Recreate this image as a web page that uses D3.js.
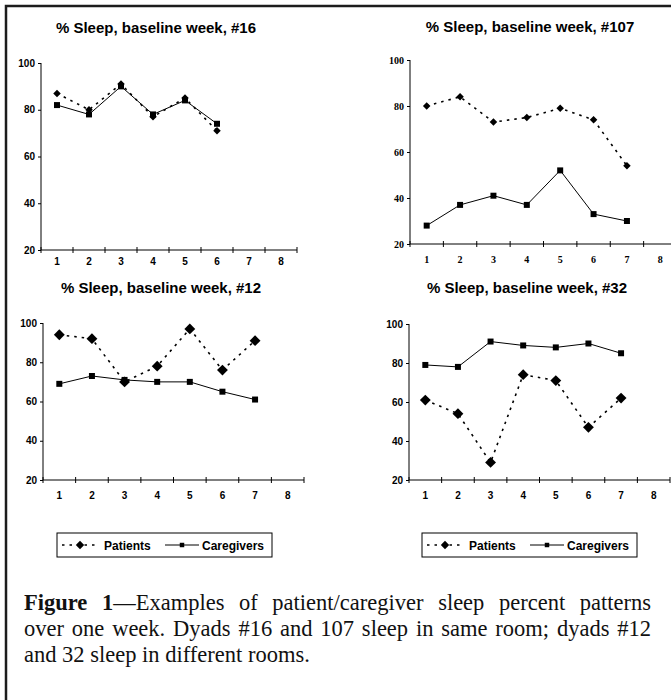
<!DOCTYPE html>
<html>
<head>
<meta charset="utf-8">
<script src="https://cdn.jsdelivr.net/npm/d3@7"></script>
<style>
  body { margin: 0; background: #fff; }
  svg { display: block; }
</style>
</head>
<body>
<script>
var width = 671,
  height = 700;

// data
var days = [1, 2, 3, 4, 5, 6, 7, 8],
  yTicks = [20, 40, 60, 80, 100],
  titles = ["% Sleep, baseline week, #16", "% Sleep, baseline week, #107",
    "% Sleep, baseline week, #12", "% Sleep, baseline week, #32"],
  patients16 = [87, 80, 91, 77, 85, 71],
  caregivers16 = [82, 78, 90, 78, 84, 74],
  patients107 = [80, 84, 73, 75, 79, 74, 54],
  caregivers107 = [28, 37, 41, 37, 52, 33, 30],
  patients12 = [94, 92, 70, 78, 97, 76, 91],
  caregivers12 = [69, 73, 71, 70, 70, 65, 61],
  patients32 = [61, 54, 29, 74, 71, 47, 62],
  caregivers32 = [79, 78, 91, 89, 88, 90, 85],
  seriesNames = ["Patients", "Caregivers"];

var svg = d3.select("body")
  .append("svg")
  .attr("width", width)
  .attr("height", height);

// frame (only left and top show)
svg.append("path")
  .attr("d", "M6,700V6H671")
  .attr("fill", "none")
  .attr("stroke", "#1c1c1c")
  .attr("stroke-width", 2.5);

var sans = "'Liberation Sans', Arial, sans-serif",
  serif = "'Liberation Serif', 'Times New Roman', serif";

var panels = [
  { title: titles[0], p: patients16, c: caregivers16, x0: 41, x1: 297, yTop: 63, yBot: 250, lab: 265, tx: 156, ty: 33, font: sans, big: false },
  { title: titles[1], p: patients107, c: caregivers107, x0: 410, x1: 677, yTop: 60, yBot: 244, lab: 263, tx: 530, ty: 32, font: serif, big: false },
  { title: titles[2], p: patients12, c: caregivers12, x0: 43, x1: 304, yTop: 323, yBot: 480, lab: 499, tx: 161, ty: 293, font: sans, big: true },
  { title: titles[3], p: patients32, c: caregivers32, x0: 409, x1: 670, yTop: 324, yBot: 480, lab: 499, tx: 527, ty: 293, font: sans, big: true }
];

var diamond = d3.symbol().type(d3.symbolDiamond2),
  square = d3.symbol().type(d3.symbolSquare);

panels.forEach(function (pn) {
  var g = svg.append("g");

  var xScale = d3.scaleBand()
    .domain(days)
    .range([pn.x0, pn.x1]);

  var yScale = d3.scaleLinear()
    .domain([20, 100])
    .range([pn.yBot, pn.yTop]);

  // title
  g.append("text")
    .attr("x", pn.tx)
    .attr("y", pn.ty)
    .attr("text-anchor", "middle")
    .style("font-family", sans)
    .style("font-weight", "bold")
    .style("font-size", "15px")
    .text(pn.title);

  //----------Y axis----------
  var yAxis = d3.axisLeft(yScale)
    .tickValues(yTicks)
    .tickSize(3)
    .tickPadding(3);

  var ya = g.append("g")
    .attr("transform", "translate(" + pn.x0 + ",0)")
    .call(yAxis);
  ya.select(".domain").attr("d", "M0," + pn.yTop + "V" + pn.yBot);
  ya.selectAll("text")
    .style("font-family", pn.font)
    .style("font-weight", "bold")
    .style("font-size", "10px");

  //----------X axis----------
  var xa = g.append("g")
    .attr("transform", "translate(0," + pn.yBot + ")");
  xa.append("line")
    .attr("x1", pn.x0)
    .attr("x2", pn.x1)
    .attr("stroke", "#000");
  xa.selectAll(".tk")
    .data(days.concat([9]))
    .enter()
    .append("line")
    .attr("x1", function (d) { return d < 9 ? xScale(d) : pn.x1; })
    .attr("x2", function (d) { return d < 9 ? xScale(d) : pn.x1; })
    .attr("y1", -3)
    .attr("y2", 3)
    .attr("stroke", "#000");
  g.selectAll(".xl")
    .data(days)
    .enter()
    .append("text")
    .attr("x", function (d) { return xScale(d) + xScale.bandwidth() / 2; })
    .attr("y", pn.lab)
    .attr("text-anchor", "middle")
    .style("font-family", pn.font)
    .style("font-weight", "bold")
    .style("font-size", "10px")
    .text(function (d) { return d; });

  var cx = function (d, i) { return xScale(days[i]) + xScale.bandwidth() / 2; };

  var line = d3.line()
    .x(cx)
    .y(function (d) { return yScale(d); });

  // patients - dashed with diamonds
  g.append("path")
    .datum(pn.p)
    .attr("d", line)
    .attr("fill", "none")
    .attr("stroke", "#000")
    .attr("stroke-width", 1.6)
    .attr("stroke-dasharray", "2.5,5");

  g.selectAll(".dm")
    .data(pn.p)
    .enter()
    .append("path")
    .attr("d", diamond.size(pn.big ? 75 : 36))
    .attr("transform", function (d, i) { return "translate(" + cx(d, i) + "," + yScale(d) + ")"; })
    .attr("fill", "#000");

  // caregivers - solid with squares
  g.append("path")
    .datum(pn.c)
    .attr("d", line)
    .attr("fill", "none")
    .attr("stroke", "#000")
    .attr("stroke-width", 1);

  g.selectAll(".sq")
    .data(pn.c)
    .enter()
    .append("path")
    .attr("d", square.size(36))
    .attr("transform", function (d, i) { return "translate(" + cx(d, i) + "," + yScale(d) + ")"; })
    .attr("fill", "#000");
});

//----------Legends----------
[57, 422].forEach(function (lx) {
  var lg = svg.append("g")
    .attr("transform", "translate(" + lx + ",533)");
  lg.append("rect")
    .attr("width", 215)
    .attr("height", 24)
    .attr("fill", "#fff")
    .attr("stroke", "#000");
  lg.append("line")
    .attr("x1", 5).attr("x2", 42)
    .attr("y1", 12).attr("y2", 12)
    .attr("stroke", "#000")
    .attr("stroke-width", 1.6)
    .attr("stroke-dasharray", "2.5,5");
  lg.append("path")
    .attr("d", diamond.size(45))
    .attr("transform", "translate(23,12)");
  lg.append("text")
    .attr("x", 47).attr("y", 16.5)
    .style("font-family", sans)
    .style("font-weight", "bold")
    .style("font-size", "12px")
    .text(seriesNames[0]);
  lg.append("line")
    .attr("x1", 108).attr("x2", 142)
    .attr("y1", 12).attr("y2", 12)
    .attr("stroke", "#000");
  lg.append("path")
    .attr("d", square.size(20))
    .attr("transform", "translate(125,12)");
  lg.append("text")
    .attr("x", 145).attr("y", 16.5)
    .style("font-family", sans)
    .style("font-weight", "bold")
    .style("font-size", "12px")
    .text(seriesNames[1]);
});

//----------Caption----------
var cap = svg.append("g")
  .style("font-family", serif)
  .style("font-size", "22.5px")
  .attr("fill", "#111");

// spread words so a line fills the column (justified text)
function justify(t, w) {
  var n = t.text().split(" ").length - 1,
    natural = t.node().getComputedTextLength();
  if (n > 0 && natural < w) t.attr("word-spacing", (w - natural) / n);
}

var l1 = cap.append("text")
  .attr("x", 24).attr("y", 610);
l1.append("tspan").style("font-weight", "bold").text("Figure 1");
l1.append("tspan").text("\u2014Examples of patient/caregiver sleep percent patterns");
justify(l1, 627);

var l2 = cap.append("text")
  .attr("x", 24).attr("y", 636)
  .text("over one week. Dyads #16 and 107 sleep in same room; dyads #12");
justify(l2, 627);

cap.append("text")
  .attr("x", 24).attr("y", 662)
  .text("and 32 sleep in different rooms.");
</script>
</body>
</html>
